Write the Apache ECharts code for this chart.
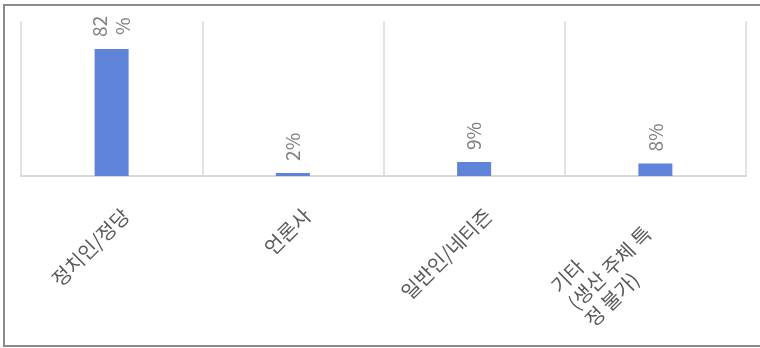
<!DOCTYPE html>
<html>
<head>
<meta charset="utf-8">
<script src="https://cdn.jsdelivr.net/npm/echarts@6/dist/echarts.min.js"></script>
<style>
  html, body { margin: 0; padding: 0; background: #ffffff; }
  #chart { width: 760px; height: 348px; }
</style>
</head>
<body>
<div id="chart"></div>
<script>
// Source of the content (share of total, %)
const categories = ['정치인/정당', '언론사', '일반인/네티즌', '기타\n(생산 주체 특\n정 불가)'];
const shares = [82, 2, 9, 8];

const FONT = '"Noto Sans CJK KR", "Noto Sans", sans-serif';

const chart = echarts.init(document.getElementById('chart'), null, { renderer: 'canvas' });

chart.setOption({
  backgroundColor: '#ffffff',
  animation: false,
  graphic: [{
    type: 'rect',
    silent: true,
    shape: { x: 4, y: 5, width: 800, height: 341 },
    style: { fill: 'none', stroke: '#8a8a8a', lineWidth: 2 }
  }],
  grid: { left: 21, right: 14, top: 21, bottom: 172 },
  xAxis: {
    type: 'category',
    data: categories.map((c, i) => i === 3
      ? { value: c, textStyle: { padding: [34, 28, 0, 0] } }
      : { value: c }),
    axisLine: { show: true, lineStyle: { color: '#d9d9d9', width: 2 } },
    axisTick: { show: false },
    splitLine: { show: true, lineStyle: { color: '#d9d9d9', width: 1.5 } },
    axisLabel: {
      interval: 0,
      rotate: 45,
      margin: 22,
      padding: [40, 0, 0, 0],
      color: '#595959',
      fontFamily: FONT,
      fontSize: 20,
      lineHeight: 24,
      formatter: v => v.split('\n').map(s => '{l|' + s + '}').join('\n'),
      rich: { l: { align: 'left', fontFamily: FONT, fontSize: 20, lineHeight: 24, color: '#595959' } }
    }
  },
  yAxis: {
    type: 'value',
    min: 0,
    max: 100,
    show: false,
    splitLine: { show: false }
  },
  series: [{
    type: 'bar',
    data: shares,
    barWidth: 34,
    itemStyle: { color: '#5f83d8' },
    label: {
      show: true,
      position: 'top',
      rotate: 90,
      align: 'left',
      verticalAlign: 'middle',
      distance: 12,
      color: '#7f7f7f',
      fontFamily: FONT,
      fontSize: 19,
      lineHeight: 23,
      formatter: p => p.value >= 10 ? '{c|' + p.value + '}\n{c|%}' : p.value + '%',
      rich: { c: { align: 'center', fontFamily: FONT, fontSize: 19, lineHeight: 23, color: '#7f7f7f' } }
    }
  }]
});
</script>
</body>
</html>
